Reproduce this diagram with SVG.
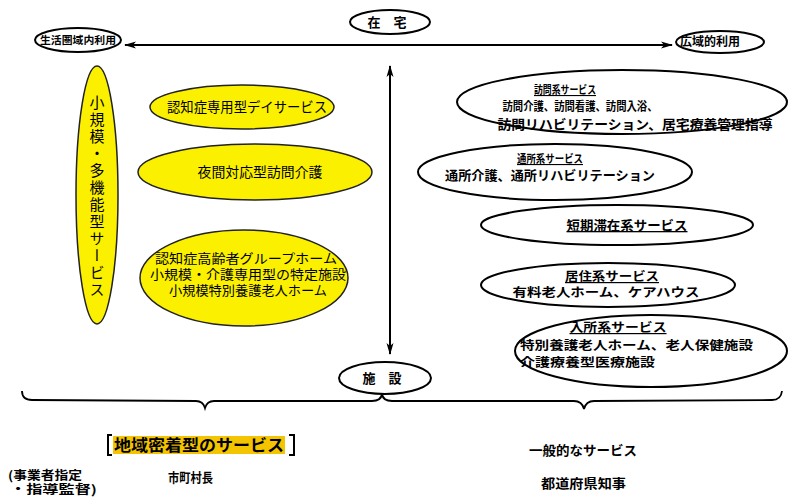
<svg xmlns="http://www.w3.org/2000/svg" width="789" height="498" viewBox="0 0 789 498">
<style>
text{font-family:"Noto Sans CJK JP","Noto Sans CJK SC",sans-serif;fill:#000}
.b{font-weight:bold}
.yel{fill:#fbf000;stroke:#222;stroke-width:1.5}
.out{fill:#fff;stroke:#000;stroke-width:2}
.ln{fill:none;stroke:#000;stroke-width:2}
.br{fill:none;stroke:#000;stroke-width:1.8}
</style>
<defs>
<marker id="ah" markerWidth="12" markerHeight="8" refX="11" refY="4" orient="auto-start-reverse" markerUnits="userSpaceOnUse">
<path d="M0,0.5 L12,4 L0,7.5 L3,4 Z" fill="#000"/>
</marker>
</defs>
<rect width="789" height="498" fill="#fff"/>

<g id="connectors">
<line class="ln" x1="125" y1="45" x2="672" y2="45" marker-start="url(#ah)" marker-end="url(#ah)"/>
<line class="ln" x1="390" y1="66" x2="390" y2="354" marker-start="url(#ah)" marker-end="url(#ah)"/>
<path class="br" d="M22,391 Q22,400 32,400 L196,401 Q203,401 205,408 Q207,401 214,401 L372,401 Q381,401 382,394"/>
<path class="br" d="M382,394 Q383,401 392,401 L574,401 Q582,401 584,409 Q586,401 594,401 L772,400 Q781,400 782,391"/>
</g>

<g id="zaitaku">
<ellipse class="out" cx="390" cy="22" rx="40" ry="12"/>
<text class="b" x="387" y="27" font-size="13" text-anchor="middle">在　宅</text>
</g>
<g id="seikatsu">
<ellipse class="out" cx="78" cy="40" rx="43" ry="12"/>
<text class="b" x="78" y="44" font-size="10.5" text-anchor="middle" textLength="76" lengthAdjust="spacingAndGlyphs">生活圏域内利用</text>
</g>
<g id="kouiki">
<ellipse class="out" cx="720" cy="42" rx="44" ry="11"/>
<text class="b" x="710" y="46" font-size="12" text-anchor="middle" textLength="60" lengthAdjust="spacingAndGlyphs">広域的利用</text>
</g>
<g id="shisetsu">
<ellipse class="out" cx="385" cy="378" rx="46" ry="16"/>
<text class="b" x="382" y="383" font-size="13" text-anchor="middle">施　設</text>
</g>

<g id="shokibo">
<ellipse class="yel" cx="97" cy="195" rx="21" ry="129"/>
<text x="97" y="197" font-size="15" text-anchor="middle" style="writing-mode:vertical-rl;letter-spacing:2px">小規模・多機能型サービス</text>
</g>
<g id="day">
<ellipse class="yel" cx="242" cy="107" rx="92" ry="22"/>
<text x="247" y="112" font-size="14" text-anchor="middle" textLength="160" lengthAdjust="spacingAndGlyphs">認知症専用型デイサービス</text>
</g>
<g id="yakan">
<ellipse class="yel" cx="255" cy="172" rx="117" ry="28"/>
<text x="260" y="177" font-size="14" text-anchor="middle" textLength="125" lengthAdjust="spacingAndGlyphs">夜間対応型訪問介護</text>
</g>
<g id="group">
<ellipse class="yel" cx="244" cy="278" rx="104" ry="48"/>
<text x="246" y="263" font-size="13" text-anchor="middle" textLength="182" lengthAdjust="spacingAndGlyphs">認知症高齢者グループホーム</text>
<text x="248" y="279" font-size="13" text-anchor="middle" textLength="196" lengthAdjust="spacingAndGlyphs">小規模・介護専用型の特定施設</text>
<text x="248" y="295" font-size="13" text-anchor="middle" textLength="158" lengthAdjust="spacingAndGlyphs">小規模特別養護老人ホーム</text>
</g>

<g id="houmon">
<ellipse class="out" cx="622" cy="102" rx="165" ry="32"/>
<text class="b" x="565" y="94" font-size="11" text-anchor="middle" text-decoration="underline" textLength="62" lengthAdjust="spacingAndGlyphs">訪問系サービス</text>
<text class="b" x="580" y="111" font-size="12" text-anchor="middle" textLength="155" lengthAdjust="spacingAndGlyphs">訪問介護、訪問看護、訪問入浴、</text>
<text class="b" x="635" y="129" font-size="13" text-anchor="middle" textLength="275" lengthAdjust="spacingAndGlyphs">訪問リハビリテーション、居宅療養管理指導</text>
</g>
<g id="tsusho">
<ellipse class="out" cx="555" cy="172" rx="137" ry="28"/>
<text class="b" x="550" y="163" font-size="11" text-anchor="middle" text-decoration="underline" textLength="66" lengthAdjust="spacingAndGlyphs">通所系サービス</text>
<text class="b" x="550" y="180" font-size="13" text-anchor="middle" textLength="210" lengthAdjust="spacingAndGlyphs">通所介護、通所リハビリテーション</text>
</g>
<g id="tanki">
<ellipse class="out" cx="617" cy="225" rx="136" ry="20"/>
<text class="b" x="627" y="230" font-size="13" text-anchor="middle" text-decoration="underline" textLength="121" lengthAdjust="spacingAndGlyphs">短期滞在系サービス</text>
</g>
<g id="kyoju">
<ellipse class="out" cx="608" cy="285" rx="127" ry="22"/>
<text class="b" x="612" y="281" font-size="12" text-anchor="middle" text-decoration="underline" textLength="94" lengthAdjust="spacingAndGlyphs">居住系サービス</text>
<text class="b" x="606" y="297" font-size="12" text-anchor="middle" textLength="187" lengthAdjust="spacingAndGlyphs">有料老人ホーム、ケアハウス</text>
</g>
<g id="nyusho">
<ellipse class="out" cx="651" cy="351" rx="136" ry="36"/>
<text class="b" x="618" y="332" font-size="12" text-anchor="middle" text-decoration="underline" textLength="97" lengthAdjust="spacingAndGlyphs">入所系サービス</text>
<text class="b" x="520" y="350" font-size="12" textLength="233" lengthAdjust="spacingAndGlyphs">特別養護老人ホーム、老人保健施設</text>
<text class="b" x="520" y="367" font-size="12" textLength="135" lengthAdjust="spacingAndGlyphs">介護療養型医療施設</text>
</g>

<g id="chiiki">
<rect x="113" y="436" width="172" height="18" fill="#f4c400"/>
<path d="M112,435 L108,435 L108,455 L112,455 M289,435 L294,435 L294,455 L289,455" fill="none" stroke="#000" stroke-width="2"/>
<text class="b" x="199" y="451" font-size="16" text-anchor="middle" textLength="170" lengthAdjust="spacingAndGlyphs">地域密着型のサービス</text>
</g>
<g id="ippan">
<text class="b" x="583" y="455" font-size="13" text-anchor="middle" textLength="108" lengthAdjust="spacingAndGlyphs">一般的なサービス</text>
</g>
<g id="jigyosha">
<text class="b" x="8" y="480" font-size="12" textLength="74" lengthAdjust="spacingAndGlyphs">(事業者指定</text>
<text class="b" x="10" y="494" font-size="12" textLength="87" lengthAdjust="spacingAndGlyphs">・指導監督)</text>
</g>
<g id="shichoson">
<text class="b" x="168" y="482" font-size="13" textLength="45" lengthAdjust="spacingAndGlyphs">市町村長</text>
</g>
<g id="chiji">
<text class="b" x="541" y="488" font-size="13" textLength="85" lengthAdjust="spacingAndGlyphs">都道府県知事</text>
</g>
</svg>
